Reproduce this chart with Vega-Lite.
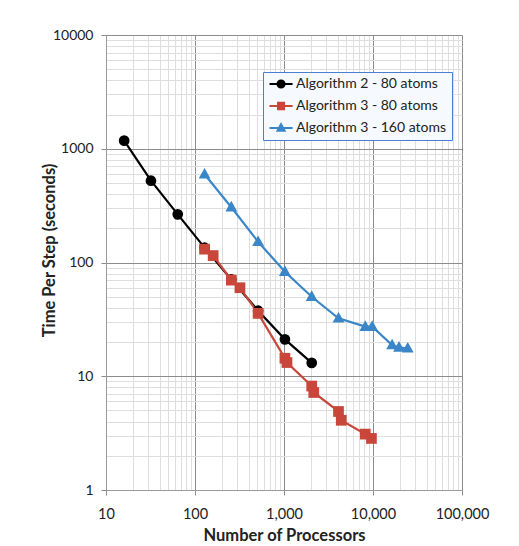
{
  "$schema": "https://vega.github.io/schema/vega-lite/v6.json",
  "autosize": {"type": "none"},
  "padding": {"left": 106, "top": 35, "right": 57, "bottom": 56},
  "width": 356,
  "height": 455,
  "background": "#ffffff",
  "config": {
    "font": "Lato",
    "view": {"stroke": null}
  },
  "data": {
    "values": [
      {"series": "Algorithm 2 - 80 atoms", "procs": 16, "time": 1178},
      {"series": "Algorithm 2 - 80 atoms", "procs": 32, "time": 524},
      {"series": "Algorithm 2 - 80 atoms", "procs": 64, "time": 265},
      {"series": "Algorithm 2 - 80 atoms", "procs": 128, "time": 135},
      {"series": "Algorithm 2 - 80 atoms", "procs": 256, "time": 71},
      {"series": "Algorithm 2 - 80 atoms", "procs": 512, "time": 37.7},
      {"series": "Algorithm 2 - 80 atoms", "procs": 1024, "time": 21.1},
      {"series": "Algorithm 2 - 80 atoms", "procs": 2048, "time": 13.1},
      {"series": "Algorithm 3 - 80 atoms", "procs": 128, "time": 131},
      {"series": "Algorithm 3 - 80 atoms", "procs": 160, "time": 115},
      {"series": "Algorithm 3 - 80 atoms", "procs": 256, "time": 70},
      {"series": "Algorithm 3 - 80 atoms", "procs": 320, "time": 60},
      {"series": "Algorithm 3 - 80 atoms", "procs": 512, "time": 35.7},
      {"series": "Algorithm 3 - 80 atoms", "procs": 1024, "time": 14.4},
      {"series": "Algorithm 3 - 80 atoms", "procs": 1080, "time": 13.2},
      {"series": "Algorithm 3 - 80 atoms", "procs": 2048, "time": 8.2},
      {"series": "Algorithm 3 - 80 atoms", "procs": 2160, "time": 7.2},
      {"series": "Algorithm 3 - 80 atoms", "procs": 4096, "time": 4.9},
      {"series": "Algorithm 3 - 80 atoms", "procs": 4400, "time": 4.1},
      {"series": "Algorithm 3 - 80 atoms", "procs": 8192, "time": 3.1},
      {"series": "Algorithm 3 - 80 atoms", "procs": 9600, "time": 2.84},
      {"series": "Algorithm 3 - 160 atoms", "procs": 128, "time": 596},
      {"series": "Algorithm 3 - 160 atoms", "procs": 256, "time": 306},
      {"series": "Algorithm 3 - 160 atoms", "procs": 512, "time": 152},
      {"series": "Algorithm 3 - 160 atoms", "procs": 1024, "time": 83},
      {"series": "Algorithm 3 - 160 atoms", "procs": 2048, "time": 50},
      {"series": "Algorithm 3 - 160 atoms", "procs": 4096, "time": 32.3},
      {"series": "Algorithm 3 - 160 atoms", "procs": 8192, "time": 27.3},
      {"series": "Algorithm 3 - 160 atoms", "procs": 9800, "time": 27.3},
      {"series": "Algorithm 3 - 160 atoms", "procs": 16384, "time": 18.8},
      {"series": "Algorithm 3 - 160 atoms", "procs": 19600, "time": 17.9},
      {"series": "Algorithm 3 - 160 atoms", "procs": 24576, "time": 17.6}
    ]
  },
  "encoding": {
    "x": {
      "field": "procs",
      "type": "quantitative",
      "scale": {"type": "log", "domain": [10, 100000], "nice": false},
      "axis": {
        "title": "Number of Processors",
        "titleFont": "Lato",
        "titleFontSize": 16.5,
        "titleFontWeight": "bold",
        "titleColor": "#222222",
        "titlePadding": 7,
        "values": [10,20,30,40,50,60,70,80,90,100,200,300,400,500,600,700,800,900,1000,2000,3000,4000,5000,6000,7000,8000,9000,10000,20000,30000,40000,50000,60000,70000,80000,90000,100000],
        "labelExpr": "indexof([10,100,1000,10000,100000], datum.value) >= 0 ? format(datum.value, ',') : ''",
        "labelFont": "Lato",
        "labelFontSize": 14.5,
        "labelColor": "#222222",
        "labelPadding": 12,
        "labelOverlap": false,
        "labelFlush": false,
        "labelBound": false,
        "grid": true,
        "gridColor": {"condition": {"test": "indexof([10,100,1000,10000,100000], datum.value) >= 0", "value": "#8c8c8c"}, "value": "#dedede"},
        "gridWidth": 1,
        "ticks": true,
        "tickSize": 5,
        "tickColor": "#8c8c8c",
        "tickOpacity": {"condition": {"test": "indexof([10,100,1000,10000,100000], datum.value) >= 0", "value": 1}, "value": 0},
        "domainColor": "#9a9a9a"
      }
    },
    "y": {
      "field": "time",
      "type": "quantitative",
      "scale": {"type": "log", "domain": [1, 10000], "nice": false},
      "axis": {
        "title": "Time Per Step (seconds)",
        "titleFont": "Lato",
        "titleFontSize": 16.5,
        "titleFontWeight": "bold",
        "titleColor": "#222222",
        "titleX": -57,
        "titleY": 215,
        "titleBaseline": "middle",
        "titleAngle": 270,
        "titleAlign": "center",
        "values": [1,2,3,4,5,6,7,8,9,10,20,30,40,50,60,70,80,90,100,200,300,400,500,600,700,800,900,1000,2000,3000,4000,5000,6000,7000,8000,9000,10000],
        "labelExpr": "indexof([1,10,100,1000,10000], datum.value) >= 0 ? format(datum.value, 'd') : ''",
        "labelFont": "Lato",
        "labelFontSize": 14,
        "labelColor": "#222222",
        "labelPadding": 8,
        "labelOverlap": false,
        "labelFlush": false,
        "labelBound": false,
        "grid": true,
        "gridColor": {"condition": {"test": "indexof([1,10,100,1000,10000], datum.value) >= 0", "value": "#8c8c8c"}, "value": "#dedede"},
        "gridWidth": 1,
        "ticks": true,
        "tickSize": 5,
        "tickColor": "#8c8c8c",
        "tickOpacity": {"condition": {"test": "indexof([1,10,100,1000,10000], datum.value) >= 0", "value": 1}, "value": 0},
        "domainColor": "#9a9a9a"
      }
    },
    "color": {
      "field": "series",
      "type": "nominal",
      "scale": {
        "domain": ["Algorithm 2 - 80 atoms", "Algorithm 3 - 80 atoms", "Algorithm 3 - 160 atoms"],
        "range": ["#000000", "#c8473a", "#3a86c8"]
      },
      "legend": {
        "title": null,
        "orient": "none",
        "legendX": 157,
        "legendY": 37,
        "padding": 5,
        "fillColor": "#f6f9fd",
        "strokeColor": "#4a7ed0",
        "symbolSize": 121,
        "symbolStrokeWidth": 2,
        "labelFont": "Lato",
        "labelFontSize": 14,
        "labelColor": "#222222",
        "labelOffset": 14,
        "rowPadding": 6,
        "labelLimit": 300,
        "encode": {
          "symbols": {
            "update": {
              "shape": {"signal": "datum.value === 'Algorithm 2 - 80 atoms' ? 'M-1,0H3.2M1.75,0A0.65,0.65,0,1,1,0.45,0A0.65,0.65,0,1,1,1.75,0' : datum.value === 'Algorithm 3 - 80 atoms' ? 'M-1,0H3.2M0.55,-0.6H1.65V0.6H0.55Z' : 'M-1,0H3.2M1.1,-0.7L1.75,0.5H0.45Z'"},
              "fill": {"signal": "datum.value === 'Algorithm 2 - 80 atoms' ? '#000000' : datum.value === 'Algorithm 3 - 80 atoms' ? '#c8473a' : '#3a86c8'"},
              "stroke": {"signal": "datum.value === 'Algorithm 2 - 80 atoms' ? '#000000' : datum.value === 'Algorithm 3 - 80 atoms' ? '#c8473a' : '#3a86c8'"}
            }
          }
        }
      }
    }
  },
  "layer": [
    {
      "mark": {"type": "line", "strokeWidth": 2.2},
      "encoding": {"detail": {"field": "series"}}
    },
    {
      "mark": {"type": "point", "filled": true, "opacity": 1, "size": 115},
      "encoding": {
        "shape": {
          "condition": [
            {"test": "datum.series === 'Algorithm 2 - 80 atoms'", "value": "circle"},
            {"test": "datum.series === 'Algorithm 3 - 80 atoms'", "value": "square"}
          ],
          "value": "M0,-1.2L1.1,0.8H-1.1Z"
        }
      }
    }
  ]
}
